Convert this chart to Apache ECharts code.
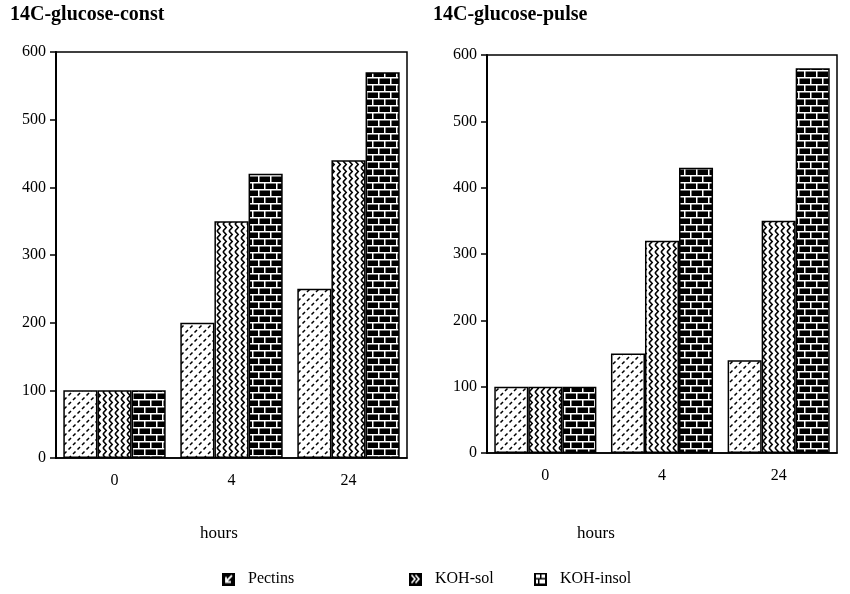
<!DOCTYPE html>
<html>
<head>
<meta charset="utf-8">
<script src="https://cdn.jsdelivr.net/npm/echarts@6/dist/echarts.min.js"></script>
<style>html,body{margin:0;padding:0;background:#fff}#c{width:850px;height:594px}</style>
</head>
<body>
<div id="c"></div>
<script>
// ---- data ----
const hours = ['0', '4', '24'];
const seriesNames = ['Pectins', 'KOH-sol', 'KOH-insol'];
const constPectins = [100, 200, 250];
const constKohSol = [100, 350, 440];
const constKohInsol = [100, 420, 570];
const pulsePectins = [100, 150, 140];
const pulseKohSol = [100, 320, 350];
const pulseKohInsol = [100, 430, 580];
const panelTitles = ['14C-glucose-const', '14C-glucose-pulse'];
const xName = 'hours';
const yMin = 0, yMax = 600, yStep = 100;

// ---- patterns ----
function canvasOf(w, h, draw) {
  const c = document.createElement('canvas');
  c.width = w; c.height = h;
  const g = c.getContext('2d');
  draw(g);
  return c;
}
const pectPat = canvasOf(9, 9, g => {
  g.fillStyle = '#fff'; g.fillRect(0, 0, 9, 9);
  g.strokeStyle = '#000'; g.lineWidth = 1.5;
  g.beginPath();
  g.moveTo(1, 4); g.lineTo(3.5, 1.5);
  g.moveTo(5.5, 8.5); g.lineTo(8, 6);
  g.stroke();
});
const solPat = canvasOf(6, 7, g => {
  g.fillStyle = '#fff'; g.fillRect(0, 0, 6, 7);
  g.strokeStyle = '#000'; g.lineWidth = 1.6;
  g.beginPath();
  g.moveTo(1, 0); g.lineTo(4.2, 3.5); g.lineTo(1, 7);
  g.stroke();
});
const insolPat = canvasOf(12, 14, g => {
  g.fillStyle = '#000'; g.fillRect(0, 0, 12, 14);
  g.fillStyle = '#fff';
  g.fillRect(0, 0, 12, 1.5);
  g.fillRect(0, 7, 12, 1.5);
  g.fillRect(0, 0, 1.5, 7);
  g.fillRect(6, 7, 1.5, 7);
});
const patterns = [pectPat, solPat, insolPat].map(c => ({ image: c, repeat: 'repeat' }));

// legend icons
const iconPect = canvasOf(13, 13, g => {
  g.fillStyle = '#000'; g.fillRect(0, 0, 13, 13);
  g.strokeStyle = '#fff'; g.lineWidth = 1.8;
  g.beginPath(); g.moveTo(10, 3); g.lineTo(4, 9);
  g.moveTo(4, 4.5); g.lineTo(4, 9.5); g.lineTo(9, 9.5); g.stroke();
});
const iconSol = canvasOf(13, 13, g => {
  g.fillStyle = '#000'; g.fillRect(0, 0, 13, 13);
  g.strokeStyle = '#fff'; g.lineWidth = 1.6;
  g.beginPath(); g.moveTo(2.5, 2.5); g.lineTo(6, 6.5); g.lineTo(2.5, 10.5);
  g.moveTo(6.5, 2.5); g.lineTo(10, 6.5); g.lineTo(6.5, 10.5); g.stroke();
});
const iconInsol = canvasOf(13, 13, g => {
  g.fillStyle = '#fff'; g.fillRect(0, 0, 13, 13);
  g.fillStyle = '#000';
  g.fillRect(0, 0, 13, 2); g.fillRect(0, 11, 13, 2);
  g.fillRect(0, 0, 2, 13); g.fillRect(11, 0, 2, 13);
  g.fillRect(2, 5.5, 9, 1.5);
  g.fillRect(6, 2, 1.5, 4);
  g.fillRect(4, 7, 1.5, 4);
});
const icons = [iconPect, iconSol, iconInsol].map(c => 'image://' + c.toDataURL());

const FONT = "'Liberation Serif','Times New Roman',serif";
const chart = echarts.init(document.getElementById('c'), null, { renderer: 'canvas' });

const grids = [
  { left: 56, right: 443, top: 52, bottom: 136 },
  { left: 487, right: 13, top: 55, bottom: 141 }
];

function xAxisOf(i) {
  return {
    type: 'category', gridIndex: i, data: hours,
    axisLine: { lineStyle: { color: '#000', width: 1.5 } },
    axisTick: { alignWithLabel: true, length: 5, lineStyle: { color: '#000', width: 1.5 } },
    axisLabel: { color: '#000', fontFamily: FONT, fontSize: 16, margin: 15 },
    splitLine: { show: false }
  };
}
function yAxisOf(i) {
  return {
    type: 'value', gridIndex: i, min: yMin, max: yMax, interval: yStep,
    axisLine: { show: true, lineStyle: { color: '#000', width: 2 } },
    axisTick: { show: true, length: 6, lineStyle: { color: '#000', width: 1.5 } },
    axisLabel: { color: '#000', fontFamily: FONT, fontSize: 16, margin: 10 },
    splitLine: { show: false }
  };
}

const panelData = [
  [constPectins, constKohSol, constKohInsol],
  [pulsePectins, pulseKohSol, pulseKohInsol]
];
const series = [];
panelData.forEach((arrs, p) => {
  arrs.forEach((vals, k) => {
    series.push({
      type: 'bar', name: seriesNames[k], data: vals,
      xAxisIndex: p, yAxisIndex: p,
      barGap: '0%', barCategoryGap: '12.5%',
      itemStyle: { color: patterns[k], borderColor: '#000', borderWidth: 1.5 },
      emphasis: { disabled: true }
    });
  });
});

const legendLefts = [222, 409, 534];
const legends = seriesNames.map((n, k) => ({
  data: [{ name: n, icon: icons[k] }],
  left: legendLefts[k], top: 571,
  itemWidth: 13, itemHeight: 13, padding: 0,
  textStyle: { color: '#000', fontFamily: FONT, fontSize: 16, padding: [0, 0, 0, 8] },
  selectedMode: false
}));

const titles = [
  { text: panelTitles[0], left: 10, top: 5 },
  { text: panelTitles[1], left: 433, top: 5 }
].map(t => Object.assign(t, { padding: 0, textStyle: { color: '#000', fontFamily: FONT, fontSize: 20, fontWeight: 'bold' } }));
[{ left: 200, top: 525 }, { left: 577, top: 525 }].forEach(pos => {
  titles.push(Object.assign({ text: xName, padding: 0, textStyle: { color: '#000', fontFamily: FONT, fontSize: 17, fontWeight: 'normal' } }, pos));
});

chart.setOption({
  animation: false,
  backgroundColor: '#fff',
  title: titles,
  legend: legends,
  grid: grids.map(g => Object.assign({ show: true, borderColor: '#000', borderWidth: 1.5, backgroundColor: 'transparent' }, g)),
  xAxis: [xAxisOf(0), xAxisOf(1)],
  yAxis: [yAxisOf(0), yAxisOf(1)],
  series: series
});
</script>
</body>
</html>
